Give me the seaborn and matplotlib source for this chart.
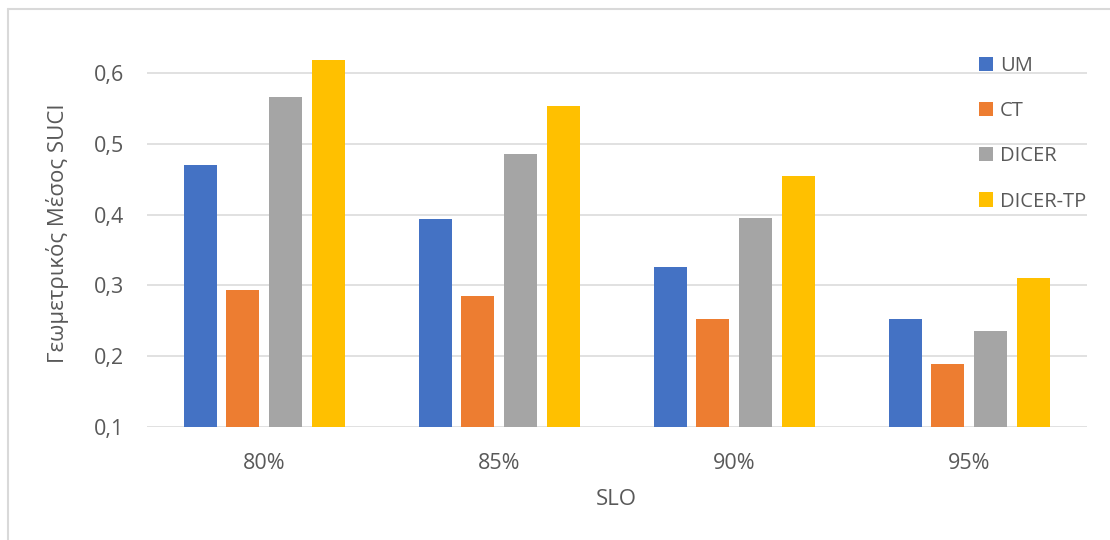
import matplotlib
matplotlib.use("Agg")
import matplotlib.pyplot as plt
from matplotlib.lines import Line2D
import seaborn as sns
import pandas as pd

# Data
slo_levels = ["80%", "85%", "90%", "95%"]
methods = ["UM", "CT", "DICER", "DICER-TP"]
um = [0.470, 0.394, 0.326, 0.252]
ct = [0.293, 0.285, 0.253, 0.188]
dicer = [0.567, 0.486, 0.395, 0.235]
dicer_tp = [0.619, 0.554, 0.454, 0.310]
y_ticks = [0.1, 0.2, 0.3, 0.4, 0.5, 0.6]
y_tick_labels = ["0,1", "0,2", "0,3", "0,4", "0,5", "0,6"]
colors = ["#4472C4", "#ED7D31", "#A5A5A5", "#FFC000"]

rows = []
for name, vals in zip(methods, [um, ct, dicer, dicer_tp]):
    for slo, v in zip(slo_levels, vals):
        rows.append({"SLO": slo, "Method": name, "Value": v})
df = pd.DataFrame(rows)

sns.set_theme(style="white")
plt.rcParams["font.family"] = ["Open Sans", "DejaVu Sans"]
text_color = "#595959"
grid_color = "#D9D9D9"

W, H = 1110, 540
fig = plt.figure(figsize=(W / 100, H / 100), dpi=100)
ax = fig.add_axes([146.7 / W, 1 - 426.7 / H, 940 / W, 424.2 / H])

sns.barplot(data=df, x="SLO", y="Value", hue="Method", hue_order=methods,
            order=slo_levels, palette=colors, width=0.725, gap=0.225,
            saturation=1, ax=ax, zorder=3, edgecolor="none", linewidth=0)

ax.set_ylim(0.1, 0.7)
ax.set_xlim(-0.5, 3.5)
ax.set_yticks(y_ticks)
ax.set_yticklabels(y_tick_labels)
ax.yaxis.grid(True, color=grid_color, linewidth=1.1, zorder=0)
ax.xaxis.grid(False)
ax.set_axisbelow(True)
for side in ["top", "right", "left", "bottom"]:
    ax.spines[side].set_visible(False)
ax.tick_params(axis="y", length=0, pad=16, labelsize=15.5, labelcolor=text_color)
ax.tick_params(axis="x", length=0, pad=19, labelsize=15.5, labelcolor=text_color)

ax.set_xlabel("SLO", fontsize=16, color=text_color)
ax.xaxis.set_label_coords(0.5, -0.147)
ax.set_ylabel("Γεωμετρικός Μέσος SUCI", fontsize=16, color=text_color)
ax.yaxis.set_label_coords(-0.083, 0.457)

leg = ax.legend(loc="upper left", bbox_to_anchor=(979 / W, 1 - 56 / H),
                bbox_transform=fig.transFigure, frameon=False, fontsize=14.5,
                handlelength=0.7, handleheight=0.7, handletextpad=0.35,
                labelspacing=1.25, borderpad=0, borderaxespad=0)
for t in leg.get_texts():
    t.set_color(text_color)

# Chart area outline (top and left edges)
fig.add_artist(Line2D([7.5 / W, 1], [1 - 9 / H, 1 - 9 / H], transform=fig.transFigure,
                      color=grid_color, linewidth=1.5))
fig.add_artist(Line2D([7.5 / W, 7.5 / W], [0, 1 - 9 / H], transform=fig.transFigure,
                      color=grid_color, linewidth=1.5))

fig.savefig("out.png", dpi=100, facecolor="white")
